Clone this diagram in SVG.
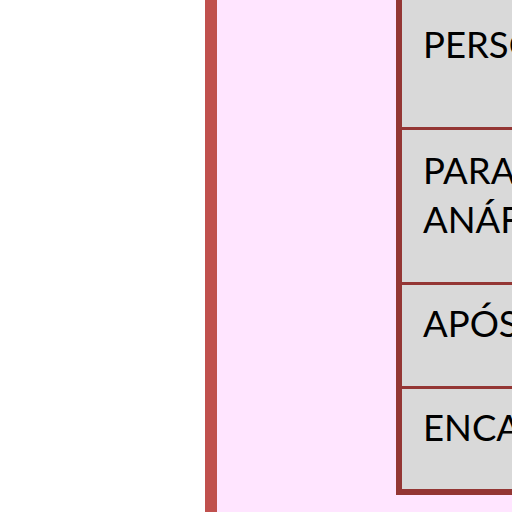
<svg xmlns="http://www.w3.org/2000/svg" width="512" height="512" viewBox="0 0 512 512">
<style>
.cell{fill:#D9D9D9}
.rule{fill:#943634}
.t{font-family:Lato,"Liberation Sans",sans-serif;font-size:36.5px;fill:#000}
</style>
<rect x="0" y="0" width="512" height="512" fill="#FFFFFF"/>
<rect x="217" y="0" width="295" height="512" fill="#FFE5FF"/>
<rect x="205" y="0" width="12" height="512" fill="#C0504D"/>
<g id="table">
<rect class="cell" x="402" y="0" width="110" height="489"/>
<rect class="rule" x="396" y="0" width="6" height="495"/>
<rect class="rule" x="396" y="127" width="116" height="3"/>
<rect class="rule" x="396" y="282" width="116" height="3"/>
<rect class="rule" x="396" y="386" width="116" height="3"/>
<rect class="rule" x="396" y="489" width="116" height="6"/>
</g>
<g id="row1"><text class="t" x="423" y="58">PERSO</text></g>
<g id="row2"><text class="t" x="423" y="184">PARA</text><text class="t" x="423" y="233">ANÁF</text></g>
<g id="row3"><text class="t" x="423" y="337">APÓS</text></g>
<g id="row4"><text class="t" x="423" y="441">ENCA</text></g>
</svg>
